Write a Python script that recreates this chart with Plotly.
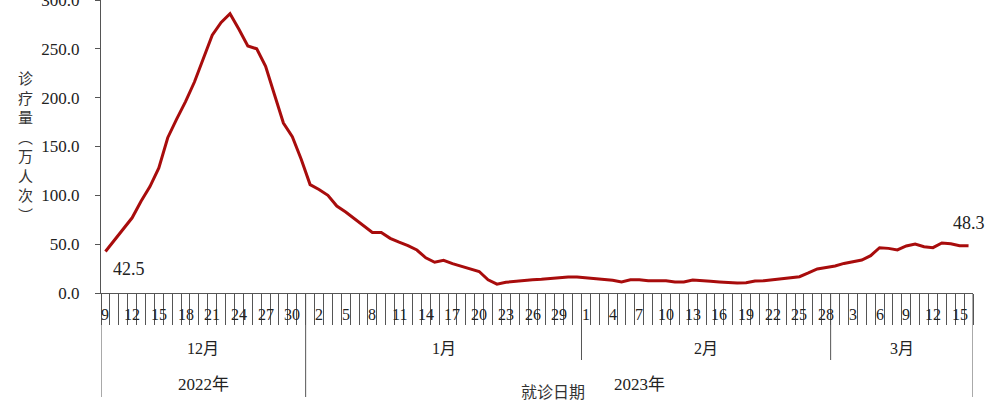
import plotly.graph_objects as go

# ---- data ----
months = ["12月", "1月", "2月", "3月"]
month_days = [23, 31, 28, 16]          # days shown in each month
month_start_day = [9, 1, 1, 1]
years = ["2022年", "2023年"]
year_months = [1, 3]                   # number of months belonging to each year

dec = [42.5, 54, 65, 77, 94, 109, 128, 159, 178, 196, 216, 241, 264, 277, 286,
       270, 253, 250, 232, 203, 174, 160, 137]
jan = [111, 106, 100, 89, 83, 76, 69, 62, 62, 56, 52, 48.5, 44, 36, 31.5, 33.5,
       30, 27.5, 24.5, 22, 13.5, 9, 11, 12, 12.5, 13.5, 14, 15, 16, 16.5, 16.5]
feb = [15.7, 14.7, 14.3, 13, 11.3, 13.6, 13.6, 12.6, 12.6, 12.6, 11.3, 11.3,
       13.3, 12.3, 12, 11.3, 10.5, 10.2, 10.4, 12.3, 12.6, 13.6, 15, 16, 16.7,
       20.5, 24.6, 26.2]
mar = [27.7, 30.3, 32.4, 33.8, 38.2, 46.4, 45.7, 44.1, 48.2, 50.2, 47.4, 46.4,
       51.2, 50.5, 48.5, 48.3]
values = dec + jan + feb + mar

day_numbers = []
for s, n in zip(month_start_day, month_days):
    day_numbers += list(range(s, s + n))
idx = list(range(len(values)))

y_title = "诊疗量︵万人次︶"
x_title = "就诊日期"

# ---- figure ----
serif = "Liberation Serif, Noto Sans CJK SC, serif"
cjk = "Liberation Serif, Noto Sans CJK SC, sans-serif"
txt = "#222222"
axc = "#555555"

fig = go.Figure()
fig.add_trace(go.Scatter(x=idx, y=values, mode="lines",
                         line=dict(color="#a80c0c", width=3),
                         hoverinfo="skip", showlegend=False))

N = len(values)
fig.update_layout(
    width=1000, height=419,
    margin=dict(l=101, r=27, t=0, b=126, autoexpand=False),
    paper_bgcolor="white", plot_bgcolor="white",
    xaxis=dict(range=[-0.5, N - 0.5], tickmode="array",
               tickvals=[i - 0.5 for i in range(N + 1)],
               showticklabels=False, ticks="outside", ticklen=31,
               tickcolor=axc, tickwidth=1, showline=True, linecolor=axc,
               linewidth=1, showgrid=False, zeroline=False, fixedrange=True,
               automargin=False),
    yaxis=dict(range=[0, 300], tickmode="linear", tick0=0, dtick=50,
               tickformat=".1f", ticks="outside", ticklen=5, tickcolor=axc,
               showline=True, linecolor=axc, linewidth=1, showgrid=False,
               zeroline=False, ticklabelstandoff=12, automargin=False,
               ticklabeloverflow="allow", fixedrange=True,
               tickfont=dict(family=serif, size=17, color=txt)),
)

ann = []
# day labels every 3rd day
for i in idx[::3]:
    ann.append(dict(x=i, y=-0.072, xref="x", yref="paper", text=str(day_numbers[i]),
                    showarrow=False, xanchor="center", yanchor="middle",
                    font=dict(family=serif, size=16, color=txt)))

H = 293.0
def py(p):
    return (H - p) / H

# month labels & separators
start = 0
bounds = [0]
for m, n in zip(months, month_days):
    ann.append(dict(x=start + n / 2 - 0.5, y=py(348), xref="x", yref="paper",
                    text=m, showarrow=False, xanchor="center", yanchor="middle",
                    font=dict(family=cjk, size=16, color=txt)))
    start += n
    bounds.append(start)

# year labels
shapes = []
year_bounds = [0]
mi = 0
for yname, cnt in zip(years, year_months):
    a = bounds[mi]
    mi += cnt
    b = bounds[mi]
    year_bounds.append(b)
    ann.append(dict(x=(a + b) / 2 - 0.5, y=py(384), xref="x", yref="paper",
                    text=yname, showarrow=False, xanchor="center", yanchor="middle",
                    font=dict(family=cjk, size=17, color=txt)))

for b in bounds:
    bottom = py(397) if b in year_bounds else py(360)
    shapes.append(dict(type="line", xref="x", yref="paper", x0=b - 0.5, x1=b - 0.5,
                       y0=0, y1=bottom, line=dict(color=axc, width=1)))

# x title
ann.append(dict(x=(553 - 101) / 872, y=py(391), xref="paper", yref="paper",
                text=x_title, showarrow=False, xanchor="center", yanchor="middle",
                font=dict(family="Noto Sans CJK SC, sans-serif", size=16, color="#333333")))

# y title, stacked vertically
ann.append(dict(x=(25 - 101) / 872, y=py(146), xref="paper", yref="paper",
                text="<br>".join(y_title), showarrow=False, xanchor="center",
                yanchor="middle", align="center",
                font=dict(family="Noto Sans CJK SC, sans-serif", size=15, color="#333333")))

# data labels
ann.append(dict(x=idx[0], y=values[0], xref="x", yref="y", text=f"{values[0]:.1f}",
                showarrow=False, xanchor="left", yanchor="top", xshift=6, yshift=-6,
                font=dict(family=serif, size=18, color=txt)))
ann.append(dict(x=idx[-1], y=values[-1], xref="x", yref="y", text=f"{values[-1]:.1f}",
                showarrow=False, xanchor="center", yanchor="bottom", yshift=11,
                font=dict(family=serif, size=18, color=txt)))

fig.update_layout(annotations=ann, shapes=shapes)
fig.write_html("out.html", config={"displayModeBar": False},
               post_script="document.body.style.margin='0';document.body.style.padding='0';")
